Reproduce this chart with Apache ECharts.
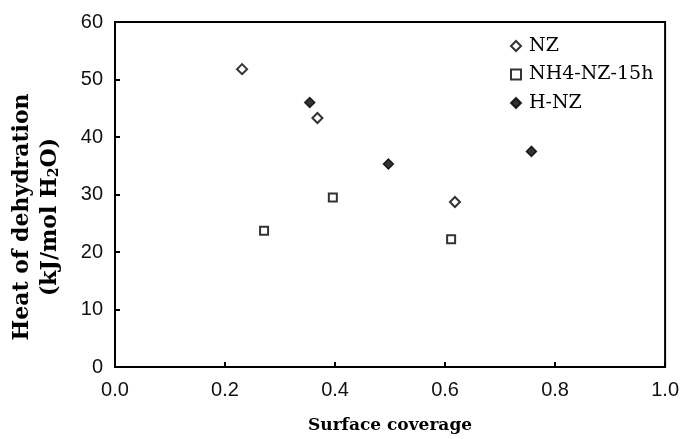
<!DOCTYPE html>
<html>
<head>
<meta charset="utf-8">
<script src="https://cdn.jsdelivr.net/npm/echarts@6/dist/echarts.min.js"></script>
<style>html,body{margin:0;padding:0;background:#fff;}#c{width:682px;height:439px;}</style>
</head>
<body>
<div id="c"></div>
<script>
// Data
var seriesNames = ['NZ', 'NH4-NZ-15h', 'H-NZ'];
var nzData = [[0.231, 51.8], [0.368, 43.3], [0.618, 28.7]];
var nh4Data = [[0.271, 23.7], [0.396, 29.5], [0.611, 22.2]];
var hnzData = [[0.354, 46.0], [0.497, 35.3], [0.757, 37.5]];
var xTicks = [0.0, 0.2, 0.4, 0.6, 0.8, 1.0];
var yTicks = [0, 10, 20, 30, 40, 50, 60];

var chart = echarts.init(document.getElementById('c'), null, {renderer: 'canvas'});
var sansFont = '"Liberation Sans", Arial, sans-serif';
var serifFont = '"DejaVu Serif", serif';

chart.setOption({
  animation: false,
  backgroundColor: '#fff',
  grid: {left: 115, right: 16, top: 22, bottom: 71, show: true, borderColor: '#000', borderWidth: 2, backgroundColor: 'transparent'},
  legend: {
    orient: 'vertical', left: 505, top: 31,
    itemWidth: 10, itemHeight: 10, itemGap: 8.5,
    data: seriesNames,
    textStyle: {fontFamily: serifFont, fontSize: 19, color: '#000', lineHeight: 20, padding: [0, 0, 0, 3]}
  },
  xAxis: {
    type: 'value', min: 0, max: 1, interval: 0.2,
    name: 'Surface coverage', nameLocation: 'middle', nameGap: 50,
    nameTextStyle: {fontFamily: serifFont, fontWeight: 'bold', fontSize: 17, color: '#000'},
    axisLine: {show: true, lineStyle: {color: '#000', width: 2}},
    axisTick: {show: true, inside: true, length: 5, lineStyle: {color: '#000', width: 2}},
    splitLine: {show: false},
    axisLabel: {margin: 13, fontFamily: sansFont, fontSize: 20, color: '#111',
      formatter: function (v) { return xTicks.indexOf(Math.round(v * 10) / 10) >= 0 ? v.toFixed(1) : ''; }}
  },
  yAxis: {
    type: 'value', min: 0, max: 60, interval: 10,
    axisLine: {show: true, lineStyle: {color: '#000', width: 2}},
    axisTick: {show: true, inside: true, length: 5, lineStyle: {color: '#000', width: 2}},
    splitLine: {show: false},
    axisLabel: {margin: 12, fontFamily: sansFont, fontSize: 20, color: '#111',
      formatter: function (v) { return yTicks.indexOf(v) >= 0 ? String(v) : ''; }}
  },
  graphic: [
    {type: 'text', x: 22, y: 217, rotation: Math.PI / 2,
      style: {text: 'Heat of dehydration', fontFamily: serifFont, fontWeight: 'bold', fontSize: 22, fill: '#000', align: 'center', verticalAlign: 'middle'}},
    {type: 'text', x: 50, y: 217, rotation: Math.PI / 2,
      style: {text: '{a|(kJ/mol H}{s|2}{a|O)}', fill: '#000', align: 'center', verticalAlign: 'middle',
        rich: {
          a: {fontFamily: serifFont, fontWeight: 'bold', fontSize: 22, fill: '#000'},
          s: {fontFamily: serifFont, fontWeight: 'bold', fontSize: 14, fill: '#000', verticalAlign: 'bottom', padding: [9, 0, 0, 0]}
        }}}
  ],
  series: [
    {name: seriesNames[0], type: 'scatter', data: nzData, symbol: 'diamond', symbolSize: 10,
      itemStyle: {color: '#fff', borderColor: '#000', borderWidth: 2}},
    {name: seriesNames[1], type: 'scatter', data: nh4Data, symbol: 'rect', symbolSize: 8,
      itemStyle: {color: '#fff', borderColor: '#000', borderWidth: 2}},
    {name: seriesNames[2], type: 'scatter', data: hnzData, symbol: 'diamond', symbolSize: 10,
      itemStyle: {color: '#000', borderColor: '#000', borderWidth: 1.5}}
  ]
});
</script>
</body>
</html>
